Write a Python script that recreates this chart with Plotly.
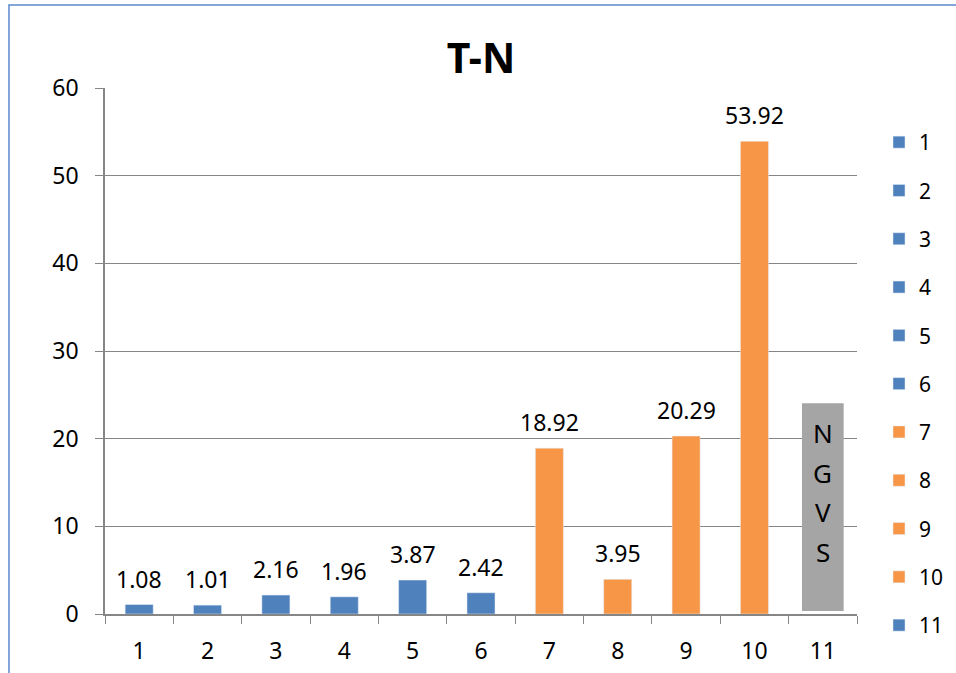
import plotly.graph_objects as go

categories = ["1", "2", "3", "4", "5", "6", "7", "8", "9", "10", "11"]
values = [1.08, 1.01, 2.16, 1.96, 3.87, 2.42, 18.92, 3.95, 20.29, 53.92, None]
labels = ["1.08", "1.01", "2.16", "1.96", "3.87", "2.42", "18.92", "3.95", "20.29", "53.92", None]
BLUE, ORANGE, GRAY = "#4F81BD", "#F79646", "#A5A5A5"
colors = [BLUE] * 6 + [ORANGE] * 4 + [BLUE]
y_ticks = [0, 10, 20, 30, 40, 50, 60]
ngvs_letters = ["N", "G", "V", "S"]
ngvs_box = (0.35, 24.05)  # bottom, top of the grey text box (data units)

FONT = "Noto Sans"
fig = go.Figure()
for i, cat in enumerate(categories):
    fig.add_trace(go.Bar(
        x=[cat], y=[values[i]], name=cat, marker_color=colors[i],
        width=0.41, legendgroup=cat, showlegend=True,
    ))

annotations = []
for i, (v, lab) in enumerate(zip(values, labels)):
    if v is None:
        continue
    annotations.append(dict(x=i, y=v, xref="x", yref="y", text=lab, showarrow=False, yshift=26,
                            yanchor="middle", font=dict(family=FONT, size=23, color="#000")))

# grey text box over category 11
idx11 = len(categories) - 1
y_start, y_step = 20.6, 4.5
for k, letter in enumerate(ngvs_letters):
    annotations.append(dict(x=idx11, y=y_start - k * y_step, xref="x", yref="y", text=letter,
                            showarrow=False, yanchor="middle",
                            font=dict(family=FONT, size=26, color="#000")))

shapes = [
    dict(type="rect", xref="x", yref="y", x0=idx11 - 0.305, x1=idx11 + 0.305,
         y0=ngvs_box[0], y1=ngvs_box[1], fillcolor=GRAY, line=dict(width=0), layer="above"),
    dict(type="rect", xref="paper", yref="paper", x0=-0.1277, x1=2, y0=-1, y1=1.158,
         line=dict(color="#5B8BD0", width=1.5), fillcolor="rgba(0,0,0,0)"),
]

fig.update_layout(
    width=956, height=673,
    margin=dict(l=105, r=99, t=88, b=59, autoexpand=False),
    paper_bgcolor="white", plot_bgcolor="white",
    barmode="overlay",
    title=dict(text="<b>T-N</b>", x=0.5, xref="paper", y=1 - 59 / 673, yanchor="middle",
               font=dict(family=FONT, size=41, color="#000")),
    font=dict(family=FONT, size=23, color="#000"),
    xaxis=dict(type="category", categoryorder="array", categoryarray=categories,
               showline=True, linecolor="#868686", linewidth=1.5, automargin=False,
               ticks="outside", tickson="boundaries", ticklen=8, tickcolor="#868686",
               ticklabelstandoff=16,
               showgrid=False, tickfont=dict(family=FONT, size=23, color="#000")),
    yaxis=dict(range=[0, 60], tickvals=y_ticks, showline=True, linecolor="#868686", linewidth=1.5,
               automargin=False,
               ticks="outside", ticklen=8, tickcolor="#868686", ticklabelstandoff=12,
               gridcolor="#868686", gridwidth=1, zeroline=False,
               tickfont=dict(family=FONT, size=23, color="#000")),
    legend=dict(x=879 / 956, xref="container", xanchor="left",
                y=(614 - 122) / 526, yref="paper", yanchor="top",
                maxheight=620,
                traceorder="grouped",
                tracegroupgap=18, font=dict(family=FONT, size=21, color="#000"),
                bgcolor="rgba(0,0,0,0)"),
    annotations=annotations,
    shapes=shapes,
)
fig.write_html("out.html")
